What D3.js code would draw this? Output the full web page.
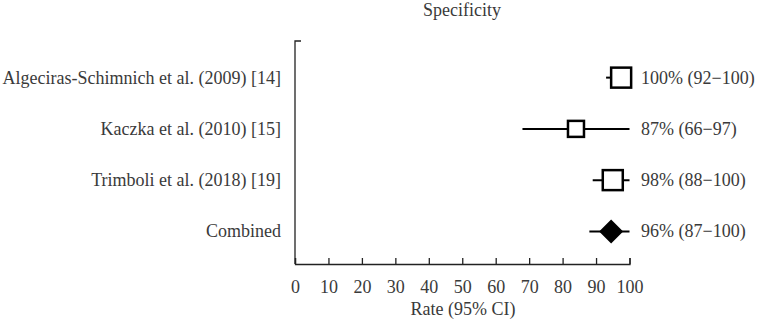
<!DOCTYPE html>
<html>
<head>
<meta charset="utf-8">
<script src="https://cdn.jsdelivr.net/npm/d3@7"></script>
<style>
  body { margin: 0; background: #fff; }
  text { font-family: "Liberation Serif", "Times New Roman", serif; fill: #3a3a3a; }
</style>
</head>
<body>
<div id="chart"></div>
<script>
// ---------------------------------------
// data
const studies = ["Algeciras-Schimnich et al. (2009) [14]", "Kaczka et al. (2010) [15]", "Trimboli et al. (2018) [19]", "Combined"];
const estimates = [97.5, 84, 95, 94.5];
const lower = [93, 68, 89, 88];
const upper = [100, 100, 100, 100];
const boxSizes = [20, 16, 20, 0]; // square size per study, 0 = diamond
const rightLabels = ["100% (92\u2212100)", "87% (66\u221297)", "98% (88\u2212100)", "96% (87\u2212100)"];
const xTicks = [0, 10, 20, 30, 40, 50, 60, 70, 80, 90, 100];

// ---------------------------------------
// svg params
const W = 767, H = 324;
const fs = "18px";
const svg = d3.select("#chart").append("svg")
    .attr("width", W)
    .attr("height", H);

const x = d3.scaleLinear()
    .domain([0, 100])
    .range([295, 629.5]);

const y = d3.scaleBand()
    .domain(studies)
    .range([52, 257])
    .paddingInner(0)
    .paddingOuter(0);
const yc = (d) => y(d) + y.bandwidth() / 2;

const axisY = 264;

// title
svg.append("text")
    .attr("x", 462)
    .attr("y", 16)
    .attr("text-anchor", "middle")
    .style("font-size", fs)
    .text("Specificity");

// x axis, ticks pointing up
const xAxis = svg.append("g")
    .attr("transform", "translate(0," + axisY + ")")
    .call(d3.axisBottom(x).tickValues(xTicks).tickSizeInner(-6).tickSizeOuter(-6).tickPadding(16));
xAxis.selectAll("path, line").attr("stroke", "#222").attr("stroke-width", 1.3);
xAxis.selectAll("text")
    .style("font-size", fs)
    .style("font-family", "Liberation Serif, serif")
    .attr("fill", "#3a3a3a");

svg.append("text")
    .attr("x", 463)
    .attr("y", 315)
    .attr("text-anchor", "middle")
    .style("font-size", fs)
    .text("Rate (95% CI)");

// left vertical axis with small cap at top
svg.append("path")
    .attr("d", `M${x(0) + 6},41 H${x(0)} V${axisY}`)
    .attr("fill", "none")
    .attr("stroke", "#222")
    .attr("stroke-width", 1.3);

// ---------------------------------------
// rows
const rows = svg.selectAll(".row")
    .data(studies)
    .enter()
    .append("g")
    .attr("class", "row");

// study labels
rows.append("text")
    .attr("x", 281)
    .attr("y", (d) => yc(d) + 6)
    .attr("text-anchor", "end")
    .style("font-size", fs)
    .text((d) => d);

// CI lines
rows.append("line")
    .attr("x1", (d, i) => x(lower[i]))
    .attr("x2", (d, i) => x(upper[i]))
    .attr("y1", (d) => yc(d))
    .attr("y2", (d) => yc(d))
    .attr("stroke", "#000")
    .attr("stroke-width", 2);

// squares
rows.filter((d, i) => boxSizes[i] > 0)
    .append("rect")
    .attr("x", (d) => x(estimates[studies.indexOf(d)]) - boxSizes[studies.indexOf(d)] / 2)
    .attr("y", (d) => yc(d) - boxSizes[studies.indexOf(d)] / 2)
    .attr("width", (d) => boxSizes[studies.indexOf(d)])
    .attr("height", (d) => boxSizes[studies.indexOf(d)])
    .attr("fill", "#fff")
    .attr("stroke", "#000")
    .attr("stroke-width", 2.5);

// diamond for the combined estimate
rows.filter((d, i) => boxSizes[i] === 0)
    .append("path")
    .attr("d", (d) => {
      const cx = x(estimates[studies.indexOf(d)]);
      const cy = yc(d);
      return `M${cx - 12},${cy} L${cx},${cy - 12} L${cx + 12},${cy} L${cx},${cy + 12} Z`;
    })
    .attr("fill", "#000");

// right-side labels
rows.append("text")
    .attr("x", 641)
    .attr("y", (d) => yc(d) + 6)
    .style("font-size", fs)
    .text((d, i) => rightLabels[i]);
</script>
</body>
</html>
